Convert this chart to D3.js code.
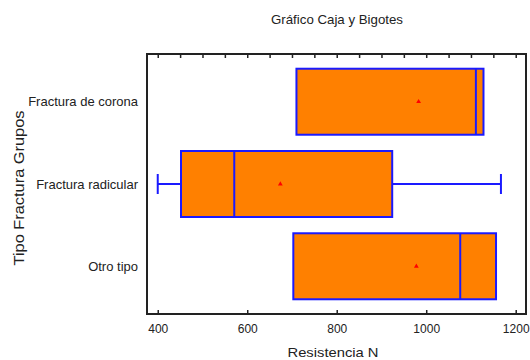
<!DOCTYPE html>
<html><head><meta charset="utf-8">
<script src="https://cdn.jsdelivr.net/npm/d3@7"></script>
<style>body{margin:0;background:#fff}text{font-family:"Liberation Sans",Arial,sans-serif;fill:#222}</style>
</head><body><svg id="c" width="530" height="360"></svg>
<script>
const categories = ["Fractura de corona", "Fractura radicular", "Otro tipo"];
const whiskerLow = [710, 400, 703];
const q1 = [710, 452, 703];
const median = [1111, 571, 1076];
const q3 = [1128, 924, 1156];
const whiskerHigh = [1128, 1167, 1156];
const means = [983, 674, 978];
const xTicks = [400, 600, 800, 1000, 1200];
const title = "Gráfico Caja y Bigotes";
const xTitle = "Resistencia  N";
const yTitle = "Tipo Fractura Grupos";

const svg = d3.select("#c");
const L = 147, R = 526, T = 54, B = 314;
const x = d3.scaleLinear().domain([376, 1223]).range([L, R]);
const y = d3.scalePoint().domain(categories).range([T, B]).padding(0.58);
const bh = 66;

svg.append("text").attr("x", 337).attr("y", 24).attr("text-anchor", "middle").attr("font-size", 13)
  .attr("textLength", 132).attr("lengthAdjust", "spacingAndGlyphs").text(title);

// frame
svg.append("rect").attr("x", L).attr("y", T).attr("width", R - L).attr("height", B - T)
  .attr("fill", "none").attr("stroke", "#222").attr("stroke-width", 2);

// bottom axis (ticks inward)
const xb = d3.axisBottom(x).tickValues(xTicks).tickSize(-4).tickPadding(10).tickFormat(d3.format("d"));
const gx = svg.append("g").attr("transform", `translate(0,${B})`).call(xb);
gx.select(".domain").remove();
gx.selectAll("line").attr("stroke", "#222").attr("stroke-width", 1.5);
gx.selectAll("text").attr("font-size", 12).attr("font-family", "Liberation Sans, Arial, sans-serif").attr("fill", "#222");

// top minor ticks
const topTicks = d3.range(400, 1201, 50);
const xt = d3.axisTop(x).tickValues(topTicks).tickSize(-4).tickFormat("");
const gt = svg.append("g").attr("transform", `translate(0,${T})`).call(xt);
gt.select(".domain").remove();
gt.selectAll("line").attr("stroke", "#222").attr("stroke-width", 1.5);

// y labels
svg.append("g").selectAll("text").data(categories).join("text")
  .attr("x", 138).attr("y", d => y(d)).attr("dy", "0.35em").attr("text-anchor", "end")
  .attr("font-size", 13).text(d => d);

svg.append("text").attr("transform", "translate(19,188) rotate(-90)").attr("dy", "0.35em").attr("text-anchor", "middle")
  .attr("font-size", 14).attr("textLength", 155).attr("lengthAdjust", "spacingAndGlyphs").text(yTitle);
svg.append("text").attr("x", 333).attr("y", 357).attr("text-anchor", "middle").attr("font-size", 13)
  .attr("textLength", 91).attr("lengthAdjust", "spacingAndGlyphs").text(xTitle);

const blue = "#1a1aff";
const g = svg.append("g");
categories.forEach((c, i) => {
  const cy = y(c);
  if (whiskerLow[i] < q1[i]) {
    g.append("line").attr("x1", x(whiskerLow[i])).attr("x2", x(q1[i])).attr("y1", cy).attr("y2", cy).attr("stroke", blue).attr("stroke-width", 2);
    g.append("line").attr("x1", x(whiskerLow[i])).attr("x2", x(whiskerLow[i])).attr("y1", cy - 10).attr("y2", cy + 10).attr("stroke", blue).attr("stroke-width", 2);
  }
  if (whiskerHigh[i] > q3[i]) {
    g.append("line").attr("x1", x(q3[i])).attr("x2", x(whiskerHigh[i])).attr("y1", cy).attr("y2", cy).attr("stroke", blue).attr("stroke-width", 2);
    g.append("line").attr("x1", x(whiskerHigh[i])).attr("x2", x(whiskerHigh[i])).attr("y1", cy - 10).attr("y2", cy + 10).attr("stroke", blue).attr("stroke-width", 2);
  }
  g.append("rect").attr("x", x(q1[i])).attr("y", cy - bh / 2).attr("width", x(q3[i]) - x(q1[i])).attr("height", bh)
    .attr("fill", "#ff8000").attr("stroke", blue).attr("stroke-width", 2);
  g.append("line").attr("x1", x(median[i])).attr("x2", x(median[i])).attr("y1", cy - bh / 2).attr("y2", cy + bh / 2)
    .attr("stroke", blue).attr("stroke-width", 2);
  g.append("path").attr("d", d3.symbol(d3.symbolTriangle, 10)()).attr("transform", `translate(${x(means[i])},${cy})`)
    .attr("fill", "#ff0000");
});
</script></body></html>
